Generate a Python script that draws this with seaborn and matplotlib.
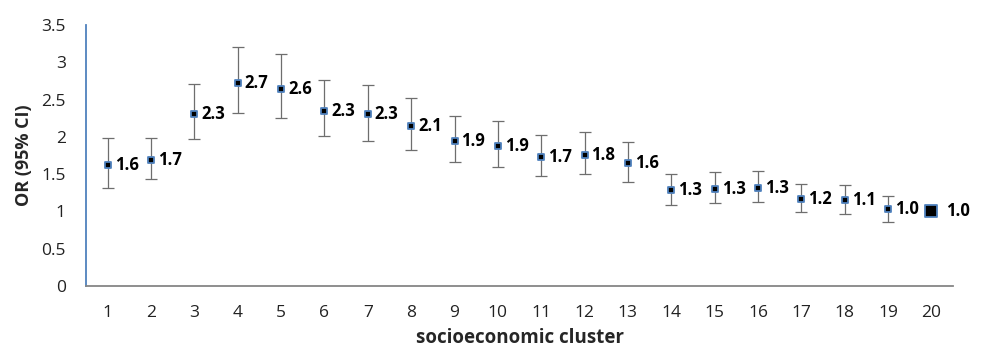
import numpy as np
import pandas as pd
import matplotlib
matplotlib.use("Agg")
import matplotlib.pyplot as plt
import seaborn as sns

clusters = [str(i) for i in range(1, 21)]
or_values = [1.62, 1.69, 2.31, 2.72, 2.64, 2.35, 2.30, 2.15, 1.94, 1.88,
             1.73, 1.76, 1.65, 1.29, 1.30, 1.32, 1.16, 1.15, 1.03, 1.00]
ci_low = [1.32, 1.43, 1.97, 2.32, 2.25, 2.01, 1.95, 1.83, 1.66, 1.60,
          1.47, 1.50, 1.40, 1.09, 1.11, 1.12, 0.99, 0.96, 0.86, 1.00]
ci_high = [1.98, 1.99, 2.71, 3.20, 3.11, 2.76, 2.69, 2.52, 2.28, 2.21,
           2.03, 2.06, 1.93, 1.50, 1.53, 1.54, 1.37, 1.36, 1.21, 1.00]
labels = ["1.6", "1.7", "2.3", "2.7", "2.6", "2.3", "2.3", "2.1", "1.9", "1.9",
          "1.7", "1.8", "1.6", "1.3", "1.3", "1.3", "1.2", "1.1", "1.0", "1.0"]

df = pd.DataFrame({"cluster": clusters, "OR": or_values, "lo": ci_low, "hi": ci_high, "label": labels})
df["x"] = np.arange(len(df))

sns.set_style("white")
plt.rcParams["font.family"] = ["Open Sans", "DejaVu Sans"]

fig = plt.figure(figsize=(9.82, 3.52), dpi=100)
ax = fig.add_axes([0.0876, 0.1875, 0.8829, 0.7415])

blue = "#4f81bd"
ref = df["x"] == len(df) - 1
sub = df[~ref]
ax.errorbar(sub["x"], sub["OR"],
            yerr=[sub["OR"] - sub["lo"], sub["hi"] - sub["OR"]],
            fmt="none", ecolor="#6e6e6e", elinewidth=0.9, capsize=4.5, capthick=0.9, zorder=2)
sns.scatterplot(data=sub, x="x", y="OR", marker="s", s=22, color="black",
                edgecolor=blue, linewidth=1.3, ax=ax, zorder=3)
sns.scatterplot(data=df[ref], x="x", y="OR", marker="s", s=85, color="black",
                edgecolor=blue, linewidth=1.3, ax=ax, zorder=3)

for _, r in df.iterrows():
    dx = 0.33 if r["x"] == len(df) - 1 else 0.16
    ax.text(r["x"] + dx, r["OR"], r["label"], ha="left", va="center",
            fontsize=12, fontweight="bold", color="black")

ax.set_xlim(-0.5, len(df) - 0.5)
ax.set_ylim(0, 3.5)
ax.set_yticks(np.arange(0, 3.51, 0.5))
ax.set_yticklabels(["0", "0.5", "1", "1.5", "2", "2.5", "3", "3.5"])
ax.set_xticks(df["x"])
ax.set_xticklabels(df["cluster"])
ax.set_xticks(np.arange(-0.5, len(df), 1), minor=True)
ax.tick_params(axis="x", which="major", length=0, pad=14, labelsize=12.5, colors="#222222")
ax.tick_params(axis="x", which="minor", length=4.5, width=1, color="#868686", direction="out")
ax.tick_params(axis="y", which="major", length=4.5, width=1, color="#868686", direction="out",
               labelsize=12.5, labelcolor="#222222", pad=10)

for s in ["top", "right"]:
    ax.spines[s].set_visible(False)
ax.spines["left"].set_color(blue)
ax.spines["left"].set_linewidth(1.3)
ax.spines["bottom"].set_color("#868686")
ax.spines["bottom"].set_linewidth(1.3)

ax.set_xlabel("socioeconomic cluster", fontsize=13.5, fontweight="bold", labelpad=5)
ax.set_ylabel("OR (95% CI)", fontsize=13, fontweight="bold", labelpad=6)

fig.savefig("out.png", dpi=100)
